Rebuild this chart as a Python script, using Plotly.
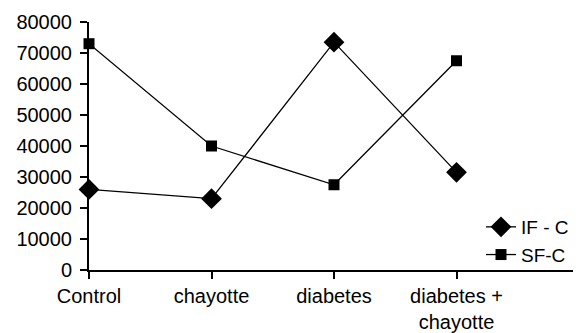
import plotly.graph_objects as go

categories = ["Control", "chayotte", "diabetes", "diabetes +<br>chayotte"]
if_c = [26000, 23000, 73500, 31500]
sf_c = [73000, 40000, 27500, 67500]
y_ticks = [0, 10000, 20000, 30000, 40000, 50000, 60000, 70000, 80000]

xpos = list(range(len(categories)))

fig = go.Figure()
fig.add_trace(go.Scatter(
    x=xpos, y=if_c, name="IF - C", mode="lines+markers",
    line=dict(color="black", width=1.3),
    marker=dict(symbol="diamond", size=16, color="black"),
    cliponaxis=False,
))
fig.add_trace(go.Scatter(
    x=xpos, y=sf_c, name="SF-C", mode="lines+markers",
    line=dict(color="black", width=1.3),
    marker=dict(symbol="square", size=11, color="black"),
    cliponaxis=False,
))

# the page body adds an 8px offset, so the figure is 8px smaller
fig.update_layout(
    width=573, height=325,
    margin=dict(l=81, r=2, t=14, b=63),
    paper_bgcolor="white", plot_bgcolor="white",
    font=dict(family="Liberation Sans, Arial, sans-serif", size=20, color="black"),
    showlegend=True,
    legend=dict(x=0.80, y=0.25, xanchor="left", yanchor="top",
                bgcolor="rgba(0,0,0,0)", font=dict(size=19),
                itemwidth=30, tracegroupgap=0),
    xaxis=dict(
        range=[0, 4], tickvals=list(range(5)), ticktext=categories + [""],
        showline=True, linecolor="black", linewidth=2,
        ticks="outside", tickcolor="black", tickwidth=2, ticklen=7,
        showgrid=False, zeroline=False, tickfont=dict(size=20),
        automargin=False,
    ),
    yaxis=dict(
        range=[0, 80000], tickvals=y_ticks, ticktext=[str(v) for v in y_ticks],
        showline=True, linecolor="black", linewidth=2,
        ticks="outside", tickcolor="black", tickwidth=2, ticklen=7,
        showgrid=False, zeroline=False, tickfont=dict(size=20),
        automargin=False, ticklabelstandoff=4,
    ),
)

fig.write_html("out.html")
